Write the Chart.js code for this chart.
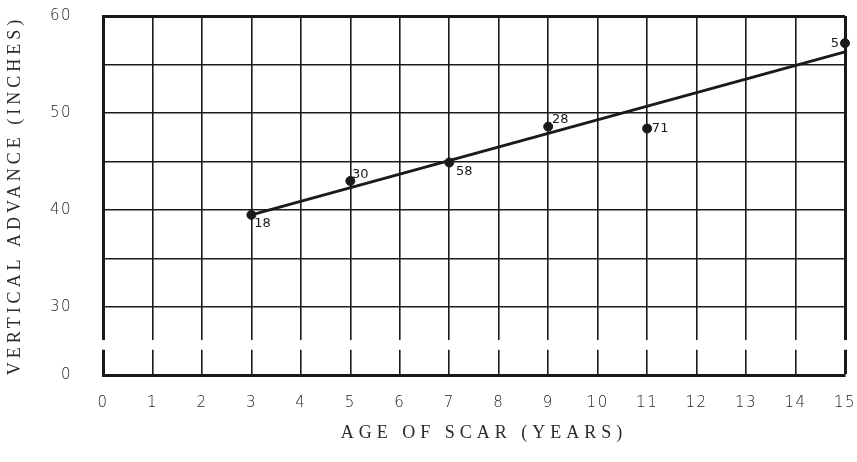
<!DOCTYPE html>
<html>
<head>
<meta charset="utf-8">
<script src="https://cdn.jsdelivr.net/npm/chart.js@4.4.0/dist/chart.umd.min.js"></script>
<style>
  body { margin: 0; background: #fff; }
  #wrap { width: 857px; height: 462px; position: relative; }
</style>
</head>
<body>
<div id="wrap"><canvas id="scarChart"></canvas></div>
<script>
// observed points: age of scar vs vertical advance, with sample counts
const ages = [3, 5, 7, 9, 11, 15]
const advance = [39.5, 43.0, 44.9, 48.6, 48.4, 57.2]
const counts = ['18', '30', '58', '28', '71', '5']

// fitted line end points
const fitAges = [3, 15]
const fitAdvance = [39.5, 56.3]

const xTicks = [0, 1, 2, 3, 4, 5, 6, 7, 8, 9, 10, 11, 12, 13, 14, 15]
const yTicks = [23, 30, 35, 40, 45, 50, 55, 60]   // 23 stands for the broken "0"
const yLabels = ['0', '30', '', '40', '', '50', '', '60']

const xTitle = 'AGE OF SCAR (YEARS)'
const yTitle = 'VERTICAL ADVANCE (INCHES)'

// where each count sits beside its point
const countOffset = [[11, 9], [10, -6], [15, 9], [12, -7], [13, 0], [-10, 0]]

const ink = '#1a1a1a'

const pointLabels = {
    id: 'pointLabels',
    afterDatasetsDraw(chart) {
        const ctx = chart.ctx
        const meta = chart.getDatasetMeta(1)
        ctx.save()
        ctx.font = '13px "DejaVu Sans"'
        ctx.fillStyle = ink
        ctx.textAlign = 'center'
        ctx.textBaseline = 'middle'
        ctx.letterSpacing = '0px'
        meta.data.forEach((pt, i) => {
            ctx.fillText(counts[i], pt.x + countOffset[i][0], pt.y + countOffset[i][1])
        })
        ctx.restore()
    }
}

// the axis break between 0 and 30, plus the spaced-out axis titles
const axisExtras = {
    id: 'axisExtras',
    beforeDraw(chart) { chart.ctx.letterSpacing = '1.5px' },
    afterDraw(chart) {
        const ctx = chart.ctx
        const y = chart.scales.y
        const area = chart.chartArea
        const top = y.getPixelForValue(26.6)
        const bottom = y.getPixelForValue(25.6)
        ctx.save()
        ctx.fillStyle = '#fff'
        ctx.fillRect(area.left - 4, top, area.right - area.left + 8, bottom - top)

        ctx.fillStyle = '#2a2a2a'
        ctx.font = '18px "Liberation Serif"'
        ctx.textAlign = 'center'
        ctx.textBaseline = 'middle'
        ctx.letterSpacing = '5px'
        ctx.fillText(xTitle, (area.left + area.right) / 2 + 10, 433)

        ctx.letterSpacing = '4px'
        ctx.translate(15, (area.top + area.bottom) / 2)
        ctx.rotate(-Math.PI / 2)
        ctx.fillText(yTitle, 0, 0)
        ctx.restore()
    }
}

const data = {
    datasets: [{
        type: 'line',
        data: fitAges.map((a, i) => ({ x: a, y: fitAdvance[i] })),
        borderColor: ink,
        borderWidth: 3,
        pointRadius: 0,
        clip: false
    }, {
        type: 'scatter',
        data: ages.map((a, i) => ({ x: a, y: advance[i] })),
        backgroundColor: ink,
        borderColor: ink,
        pointRadius: 4.5,
        clip: false
    }]
}

const config = {
    data: data,
    plugins: [pointLabels, axisExtras],
    options: {
        responsive: true,
        maintainAspectRatio: false,
        animation: false,
        layout: { padding: { top: 16, right: 12, left: 0, bottom: 0 } },
        plugins: { legend: { display: false }, tooltip: { enabled: false } },
        scales: {
            x: {
                type: 'linear',
                min: 0,
                max: 15,
                afterBuildTicks: s => { s.ticks = xTicks.map(v => ({ value: v })) },
                afterFit: s => { s.height = 87; s.paddingLeft = 0; s.paddingRight = 0 },
                grid: {
                    color: ink,
                    lineWidth: c => c.tick && c.tick.value === 15 ? 3 : 1.6,
                    drawTicks: false
                },
                border: { color: ink, width: 3 },
                ticks: {
                    padding: 19,
                    color: '#222',
                    font: { family: '"DejaVu Sans"', size: 15, weight: '300' }
                }
            },
            y: {
                type: 'linear',
                min: 23,
                max: 60,
                afterBuildTicks: s => { s.ticks = yTicks.map(v => ({ value: v })) },
                afterFit: s => { s.width = 103; s.paddingTop = 0; s.paddingBottom = 0 },
                grid: {
                    color: ink,
                    lineWidth: c => c.tick && c.tick.value === 60 ? 3 : 1.6,
                    drawTicks: false
                },
                border: { color: ink, width: 3 },
                ticks: {
                    padding: 31,
                    color: '#222',
                    font: { family: '"DejaVu Sans"', size: 15, weight: '300' },
                    callback: (v, i) => yLabels[i]
                }
            }
        }
    }
}

const scarChart = new Chart(document.getElementById('scarChart'), config)
</script>
</body>
</html>
